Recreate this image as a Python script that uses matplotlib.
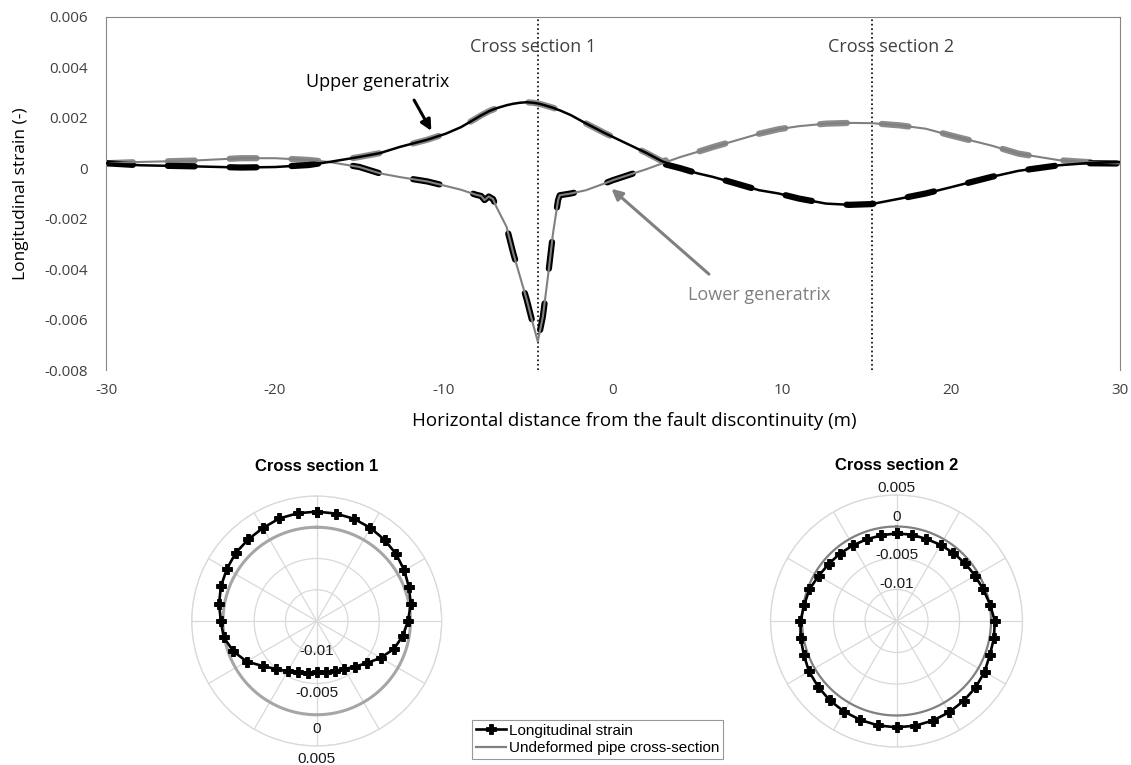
import numpy as np
import matplotlib.pyplot as plt

plt.rcParams['font.family'] = ['Open Sans', 'DejaVu Sans']
plt.rcParams['axes.unicode_minus'] = False

# distance from the fault (m) and strain along the two generatrices
dist = [-30, -28, -25, -22, -20, -18, -16.8, -15, -13.8, -12.6, -11, -9.9, -9, -8.1,
        -7.8, -7.6, -7.35, -7.1, -6.9, -6.3, -5.9, -5.5, -5.1, -4.75, -4.45, -4.15,
        -3.85, -3.55, -3.25, -3.15, -2.5, -1.6, -0.5, 0, 1, 2, 2.9, 4, 5, 5.9, 7,
        8.65, 9.8, 11, 12.6, 14, 15.3, 17, 18.5, 20, 22.4, 24, 26.4, 28, 30]
upper = [0.0002, 0.00012, 0.00008, 0.00003, 0.00005, 0.00013, 0.00025, 0.00045,
         0.0006, 0.00085, 0.00113, 0.00137, 0.00163, 0.00198, 0.0021, 0.00217,
         0.00226, 0.00233, 0.00238, 0.0025, 0.00256, 0.0026, 0.00262, 0.0026,
         0.00257, 0.00252, 0.00246, 0.0024, 0.00232, 0.0023, 0.00211, 0.00178,
         0.0014, 0.00124, 0.00092, 0.0006, 0.00028, 0.0, -0.0002, -0.00034,
         -0.00055, -0.00087, -0.001, -0.0012, -0.0014, -0.00145, -0.00142,
         -0.0012, -0.001, -0.00075, -0.00034, -0.0001, 0.00012, 0.0002, 0.00025]
lower = [0.0002, 0.00025, 0.0003, 0.0004, 0.0004, 0.00033, 0.00025, 0.00005,
         -0.0002, -0.00035, -0.00052, -0.0007, -0.00085, -0.00105, -0.0011,
         -0.00126, -0.00112, -0.00122, -0.00153, -0.00232, -0.00337, -0.0043,
         -0.00522, -0.00614, -0.00687, -0.00588, -0.0043, -0.00258, -0.00126,
         -0.00107, -0.001, -0.00087, -0.0006, -0.00047, -0.00025, -0.00003,
         0.00019, 0.00045, 0.00065, 0.00084, 0.00105, 0.00137, 0.00155, 0.00167,
         0.00177, 0.0018, 0.00179, 0.0017, 0.00157, 0.0013, 0.0009, 0.00058,
         0.00032, 0.00025, 0.00019]

section_x = [-4.45, 15.35]
section_names = ['Cross section 1', 'Cross section 2']

# strain around the pipe at each cross section, every 10 deg clockwise from the top
angles = np.arange(0, 360, 10)
sec1_strain = [0.0025, 0.00246, 0.00241, 0.0022, 0.00193, 0.00161, 0.00119, 0.00071,
               0.00029, -0.0004, -0.00103, -0.00188, -0.0032, -0.00452, -0.00548,
               -0.00611, -0.00653, -0.00675, -0.0068, -0.00659, -0.00632, -0.00569,
               -0.00495, -0.00378, -0.00204, -0.00082, 0.0001, 0.00034, 0.00087,
               0.0013, 0.00161, 0.00193, 0.00204, 0.0022, 0.00246, 0.00251]
sec2_strain = [-0.00109, -0.00109, -0.00114, -0.00103, -0.00093, -0.00077, -0.00061,
               -0.00034, 0.00008, 0.0006, 0.00071, 0.00077, 0.00114, 0.0014, 0.00156,
               0.00172, 0.00183, 0.00188, 0.00188, 0.00183, 0.00172, 0.00161, 0.00146,
               0.00124, 0.00103, 0.00066, 0.00045, 0.00024, -0.00013, -0.00029,
               -0.00071, -0.00093, -0.00103, -0.00114, -0.00119, -0.00119]
r_ticks = [-0.01, -0.005, 0, 0.005]

W, H = 1131, 765
fig = plt.figure(figsize=(W / 100, H / 100), dpi=100)

# ---------------- top: strain along the pipe ----------------
ax = fig.add_axes([106 / W, 1 - 370 / H, 1014 / W, 353 / H])

up = np.array(upper)
lo = np.array(lower)
dash_kw = dict(lw=4.5, dashes=(4.3, 5.6), dash_capstyle='round', zorder=2)
ax.plot(dist, np.maximum(up, lo), color='#8c8c8c', **dash_kw)
ax.plot(dist, np.minimum(up, lo), color='black', **dash_kw)
ax.plot(dist, lower, color='#808080', lw=1.5, zorder=3)
ax.plot(dist, upper, color='black', lw=1.8, zorder=4)

for xs, name in zip(section_x, section_names):
    ax.axvline(xs, color='black', ls=':', lw=1.2, zorder=1)
    ax.text(xs - 0.3 if xs < 0 else xs + 1.1, 0.0048, name, ha='center', va='center',
            fontsize=13, color='#404040')

ax.text(-13.9, 0.00342, 'Upper generatrix', ha='center', va='center', fontsize=13, color='black')
ax.annotate('', xy=(-10.67, 0.00139), xytext=(-11.85, 0.0028),
            arrowprops=dict(arrowstyle='-|>', color='black', lw=2.2, mutation_scale=16))
ax.text(8.66, -0.00502, 'Lower generatrix', ha='center', va='center', fontsize=13, color='#808080')
ax.annotate('', xy=(-0.21, -0.00074), xytext=(5.8, -0.00427),
            arrowprops=dict(arrowstyle='-|>', color='#808080', lw=2.2, mutation_scale=16))

ax.set_xlim(-30, 30)
ax.set_ylim(-0.008, 0.006)
ax.set_xticks(range(-30, 31, 10))
ax.set_yticks(np.arange(-0.008, 0.0061, 0.002))
ax.set_yticklabels(['-0.008', '-0.006', '-0.004', '-0.002', '0', '0.002', '0.004', '0.006'])
ax.tick_params(length=0, labelsize=11, labelcolor='#404040')
ax.tick_params(axis='y', pad=13)
ax.tick_params(axis='x', pad=9)
for side in ['left', 'top', 'right']:
    ax.spines[side].set_color('#868686')
ax.spines['bottom'].set_visible(False)
ax.set_xlabel('Horizontal distance from the fault discontinuity (m)', fontsize=13.5)
ax.xaxis.set_label_coords(0.5207, -0.118)
ax.set_ylabel('Longitudinal strain (-)', fontsize=12.5)
ax.yaxis.set_label_coords(-0.076, 0.5)

# ---------------- bottom: polar views of the two cross sections ----------------
polar_boxes = [(316.7, 621, 125), (896.5, 621, 126)]
label_dirs = [np.pi, 0]
label_shift = [[1, -9.5, -14, -13], [6, 3, 9.5, 7]]
circle_colors = ['#a6a6a6', '#8c8c8c']
circle_widths = [2.2, 1.6]
theta = np.deg2rad(np.append(angles, 0))
ring = np.linspace(0, 2 * np.pi, 361)

handles = []
for i, strain in enumerate([sec1_strain, sec2_strain]):
    cx, cy, rad = polar_boxes[i]
    pax = fig.add_axes([(cx - rad) / W, 1 - (cy + rad) / H, 2 * rad / W, 2 * rad / H],
                       projection='polar')
    pax.set_theta_zero_location('N')
    pax.set_theta_direction(-1)
    pax.set_ylim(-0.015, 0.005)
    pax.set_yticks(r_ticks)
    pax.set_yticklabels([])
    pax.set_xticks(np.deg2rad(np.arange(0, 360, 30)))
    pax.set_xticklabels([])
    pax.grid(color='#d9d9d9', lw=0.9)
    pax.spines['polar'].set_color('#d9d9d9')
    pax.spines['polar'].set_linewidth(0.9)

    h1, = pax.plot(theta, np.append(strain, strain[0]), color='black', lw=1.9,
                   marker='P', ms=7, mew=0.6, zorder=4)
    h2, = pax.plot(ring, np.zeros_like(ring), color=circle_colors[i], lw=circle_widths[i], zorder=3)
    handles = [h1, h2]

    for t, dy in zip(r_ticks, label_shift[i]):
        pax.annotate('{:g}'.format(t), xy=(label_dirs[i], t), xytext=(0, dy),
                     textcoords='offset pixels', ha='center', va='center', fontsize=11,
                     family=['Liberation Sans', 'DejaVu Sans'], color='#1a1a1a',
                     annotation_clip=False, zorder=5)
    pax.text(0.5, 1 + 29.5 / (2 * rad), section_names[i], transform=pax.transAxes,
             ha='center', va='center', fontsize=12, fontweight='bold',
             family=['Liberation Sans', 'DejaVu Sans'])

handles[1].set_color('#808080')
leg = fig.legend(handles, ['Longitudinal strain', 'Undeformed pipe cross-section'],
                 loc='upper left', bbox_to_anchor=(471.7 / W, 1 - 720 / H),
                 borderaxespad=0, frameon=True, fancybox=False, edgecolor='#7f7f7f',
                 borderpad=0.25, handlelength=2.0, handletextpad=0.2, labelspacing=0.2,
                 prop={'family': ['Liberation Sans', 'DejaVu Sans'], 'size': 11})
leg.get_frame().set_linewidth(0.8)

plt.savefig('out.png', dpi=100)
